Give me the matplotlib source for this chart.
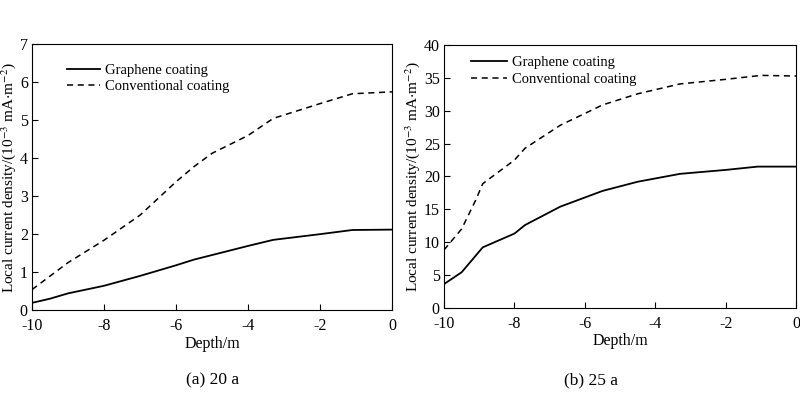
import matplotlib.pyplot as plt

plt.rcParams['font.family'] = ['Liberation Serif', 'DejaVu Serif']
plt.rcParams['mathtext.fontset'] = 'stix'

# (a) 20 a
depth_a_g = [-10, -9.5, -9, -8, -7, -6, -5.5, -5, -4, -3.3, -2, -1.1, 0]
graphene_a = [0.19, 0.30, 0.44, 0.64, 0.90, 1.18, 1.33, 1.45, 1.69, 1.85, 2.0, 2.11, 2.12]
depth_a_c = [-10, -9, -8, -7, -6, -5.5, -5, -4, -3.3, -2, -1.1, 0]
conventional_a = [0.54, 1.25, 1.84, 2.5, 3.38, 3.78, 4.13, 4.6, 5.05, 5.44, 5.7, 5.75]

# (b) 25 a
depth_b_g = [-10, -9.5, -9.2, -8.9, -8, -7.7, -6.7, -5.5, -4.5, -3.3, -2, -1.1, 0]
graphene_b = [3.6, 5.4, 7.3, 9.2, 11.3, 12.6, 15.4, 17.8, 19.2, 20.4, 21.0, 21.5, 21.5]
depth_b_c = [-10, -9.5, -9.1, -8.9, -8, -7.7, -6.7, -5.5, -4.5, -3.3, -2, -1, 0]
conventional_b = [8.8, 12.0, 16.4, 18.9, 22.5, 24.3, 27.8, 30.9, 32.6, 34.1, 34.8, 35.4, 35.3]

xticks = [-10, -8, -6, -4, -2, 0]
ylabel = 'Local current density/(10$^{-3}$ mA$\\cdot$m$^{-2}$)'

fig = plt.figure(figsize=(8, 3.93), dpi=100)
ax1 = fig.add_axes([0.04, 0.211, 0.45, 0.676])
ax2 = fig.add_axes([0.555, 0.217, 0.4405, 0.668])

panels = [
    (ax1, depth_a_g, graphene_a, depth_a_c, conventional_a, 7, 1, '(a) 20 a', 0.266),
    (ax2, depth_b_g, graphene_b, depth_b_c, conventional_b, 40, 5, '(b) 25 a', 0.739),
]
for ax, xg, yg, xc, yc, ymax, ystep, cap, cx in panels:
    ax.plot(xg, yg, color='black', lw=1.3, label='Graphene coating')
    ax.plot(xc, yc, color='black', lw=1.1, ls=(0, (4, 3)), label='Conventional coating')
    ax.set_xlim(-10, 0)
    ax.set_ylim(0, ymax)
    ax.set_xticks(xticks)
    ax.set_xticklabels([str(t) for t in xticks])
    ax.set_yticks(list(range(0, ymax + 1, ystep)))
    ax.tick_params(direction='in', length=4, labelsize=11.5, width=0.8, pad=3)
    ax.tick_params(axis='x', pad=6)
    ax.set_xlabel('Depth/m', fontsize=11.5, labelpad=1)
    ax.set_ylabel(ylabel, fontsize=11, labelpad=1)
    for s in ax.spines.values():
        s.set_linewidth(0.8)
    fig.text(cx, 1 - 380 / 393, cap, ha='center', va='center', fontsize=12.5)

ax1.legend(loc='upper left', bbox_to_anchor=(0.08, 0.95), frameon=False, fontsize=10.5,
           handlelength=2.3, handletextpad=0.3, labelspacing=0.2, borderaxespad=0)
ax2.legend(loc='upper left', bbox_to_anchor=(0.06, 0.98), frameon=False, fontsize=10.5,
           handlelength=2.5, handletextpad=0.3, labelspacing=0.2, borderaxespad=0)

fig.savefig('out.png', dpi=100)
